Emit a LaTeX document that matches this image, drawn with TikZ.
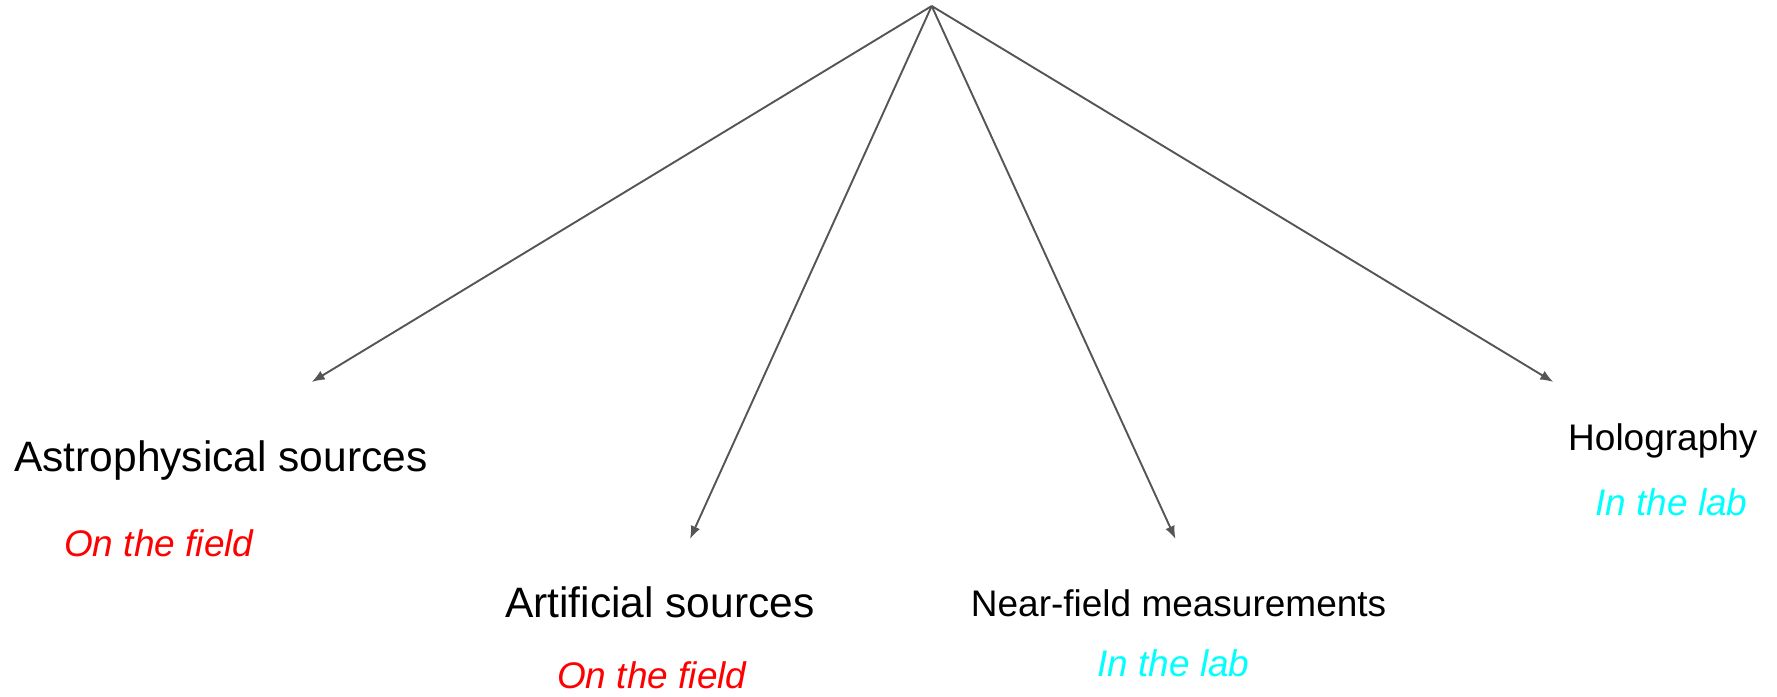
\documentclass[tikz,border=0pt]{standalone}
\usepackage{fontspec}
\setmainfont{Liberation Sans}
\usetikzlibrary{arrows.meta}
\definecolor{linegray}{HTML}{555555}
\definecolor{fieldred}{HTML}{FF0000}
\definecolor{labcyan}{HTML}{00FFFF}
\tikzset{
  conn/.style={draw=linegray, line width=1.9pt, -{Latex[length=13pt,width=10pt]}},
  bigtext/.style={anchor=base west, inner sep=0pt, font=\fontsize{42.5}{50}\selectfont},
  midtext/.style={anchor=base west, inner sep=0pt, font=\fontsize{37}{44}\selectfont},
  fieldtext/.style={anchor=base west, inner sep=0pt, text=fieldred, font=\fontsize{37}{44}\selectfont\itshape},
  labtext/.style={anchor=base west, inner sep=0pt, text=labcyan, font=\fontsize{37}{44}\selectfont\itshape}
}
\begin{document}
\begin{tikzpicture}[x=1pt,y=-1pt]
\useasboundingbox (0,0) rectangle (1777,696);
\coordinate (top) at (931.7,6);
\coordinate (e1) at (311.7,382);
\coordinate (e2) at (690,539);
\coordinate (e3) at (1175.5,539);
\coordinate (e4) at (1553.3,382);
\draw[conn] (top) -- (e1);
\draw[conn] (top) -- (e2);
\draw[conn] (top) -- (e3);
\draw[conn] (top) -- (e4);
\node[bigtext] (astro) at (14,471.7) {Astrophysical sources};
\node[fieldtext] (astrof) at (64,556.7) {On the field};
\node[bigtext] (art) at (505,617.7) {Artificial sources};
\node[fieldtext] (artf) at (557,688) {On the field};
\node[midtext] (near) at (970.7,616.7) {Near-field measurements};
\node[labtext] (nearl) at (1097,676) {In the lab};
\node[midtext] (holo) at (1568,450.7) {Holography};
\node[labtext] (holol) at (1595,515) {In the lab};
\end{tikzpicture}
\end{document}
